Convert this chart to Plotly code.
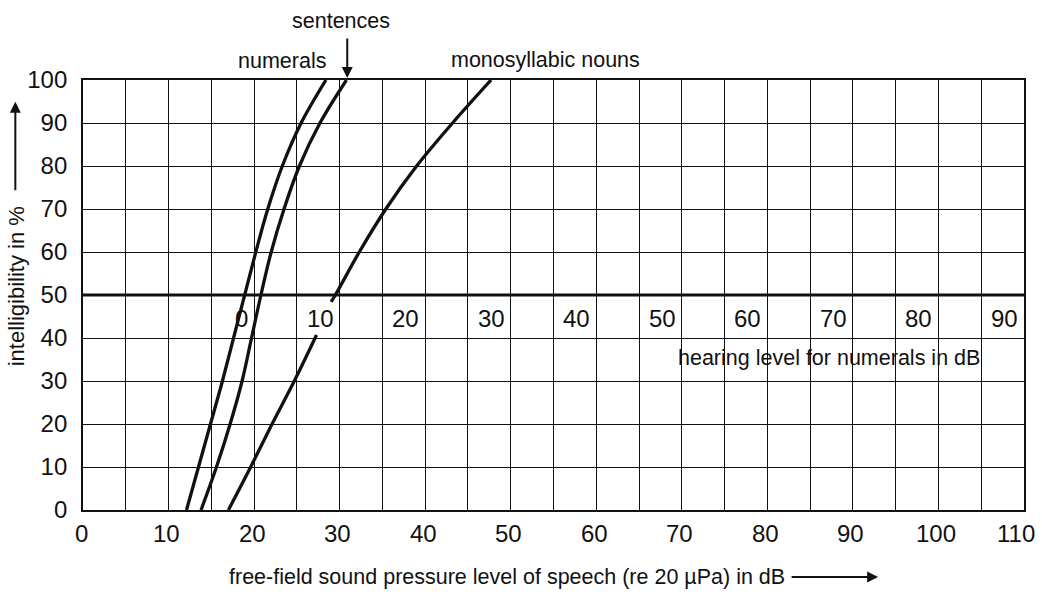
import plotly.graph_objects as go

# Speech intelligibility versus free-field sound pressure level of speech
numerals_db = [12.1, 13.5, 14.9, 16.3, 17.6, 18.9, 20.2, 21.6, 23.3, 25.5, 28.4]
numerals_pct = [0, 10, 20, 30, 40, 50, 60, 70, 80, 90, 100]

sentences_db = [13.8, 15.6, 17.2, 18.6, 19.7, 20.8, 22.0, 23.5, 25.3, 27.7, 30.8]
sentences_pct = [0, 10, 20, 30, 40, 50, 60, 70, 80, 90, 100]

# monosyllabic nouns curve is interrupted around the "10" hearing-level label
nouns_low_db = [17.0, 19.6, 22.1, 24.7, 27.3]
nouns_low_pct = [0, 10, 20, 30, 40.7]
nouns_high_db = [29.0, 29.5, 32.3, 35.4, 39.0, 43.2, 47.7]
nouns_high_pct = [48.4, 50, 60, 70, 80, 90, 100]

x_ticks = [0, 10, 20, 30, 40, 50, 60, 70, 80, 90, 100, 110]
y_ticks = [0, 10, 20, 30, 40, 50, 60, 70, 80, 90, 100]

# hearing level scale for numerals (0 dB HL = 20 dB SPL)
hl_ticks = [0, 10, 20, 30, 40, 50, 60, 70, 80, 90]
hl_offset = 20

INK = "#111111"
FONT = "Liberation Sans, Arial, Helvetica, sans-serif"
DIGIT_SIZE = 24
TEXT_SIZE = 21.5

fig = go.Figure()

curve_line = dict(color=INK, width=3.3, shape="spline", smoothing=1.0)
for xs, ys in [(numerals_db, numerals_pct), (sentences_db, sentences_pct),
               (nouns_low_db, nouns_low_pct), (nouns_high_db, nouns_high_pct)]:
    fig.add_trace(go.Scatter(x=xs, y=ys, mode="lines", line=curve_line,
                             hoverinfo="skip", showlegend=False, cliponaxis=False))

# heavy 50 % reference line carrying the hearing-level scale
fig.add_shape(type="line", xref="x", yref="y", x0=0, x1=110, y0=50, y1=50,
              line=dict(color=INK, width=3))

annotations = []

# sound-pressure tick labels under the frame (last one pulled inside the page)
for v in x_ticks:
    annotations.append(dict(x=v, y=-0.0535, xref="x", yref="paper", text=str(v),
                            showarrow=False, xanchor="center", yanchor="middle",
                            xshift=-8 if v == x_ticks[-1] else -2,
                            font=dict(family=FONT, size=DIGIT_SIZE, color=INK)))

# hearing-level labels just under the 50 % line
for hl in hl_ticks:
    annotations.append(dict(x=hl + hl_offset, y=44.6, xref="x", yref="y", text=str(hl),
                            showarrow=False, xanchor="right", yanchor="middle", xshift=-4,
                            font=dict(family=FONT, size=DIGIT_SIZE, color=INK)))


def label(text, x, y, **kw):
    d = dict(x=x, y=y, xref="paper", yref="paper", text=text, showarrow=False,
             xanchor="center", yanchor="middle",
             font=dict(family=FONT, size=TEXT_SIZE, color=INK))
    d.update(kw)
    return d


def arrow(x, y, ax, ay):
    return dict(x=x, y=y, xref="paper", yref="paper", text="", showarrow=True,
                ax=ax, ay=ay, arrowhead=2, arrowsize=1.1, arrowwidth=2, arrowcolor=INK)


annotations += [
    dict(x=87.2, y=35.4, xref="x", yref="y", text="hearing level for numerals in dB",
         showarrow=False, xanchor="center", yanchor="middle",
         font=dict(family=FONT, size=TEXT_SIZE, color=INK)),
    label("numerals", 0.2114, 1.0449),
    label("sentences", 0.2741, 1.1379),
    label("monosyllabic nouns", 0.4911, 1.0465),
    arrow(0.2808, 1.0047, 0, -41),
    # y-axis title with upward arrow
    label("intelligibility in %", -0.0698, 0.521, textangle=-90,
          font=dict(family=FONT, size=22, color=INK)),
    arrow(-0.0719, 0.9495, 0, 90),
    # x-axis title with rightward arrow
    label("free-field sound pressure level of speech (re 20 \u00b5Pa) in dB", 0.4508, -0.1558),
    arrow(0.845, -0.1558, -88, 0),
]

grid = dict(showgrid=True, gridcolor=INK, gridwidth=1.4, zeroline=False,
            showline=True, linecolor=INK, linewidth=1.8, mirror=True, ticks="")

fig.update_xaxes(range=[0, 110], tickvals=x_ticks, showticklabels=False,
                 minor=dict(dtick=5, showgrid=True, gridcolor=INK, gridwidth=1.4),
                 **grid)
fig.update_yaxes(range=[0, 100], tickvals=y_ticks, ticklabelstandoff=9,
                 tickfont=dict(family=FONT, size=DIGIT_SIZE, color=INK), **grid)

fig.update_layout(width=1042, height=595, autosize=False,
                  margin=dict(l=83, r=18, t=80, b=85),
                  plot_bgcolor="white", paper_bgcolor="white",
                  annotations=annotations, showlegend=False)

# keep the page free of margins and scrollbars
page_fix = (
    "document.documentElement.style.overflow='hidden';"
    "document.body.style.margin='0';"
    "document.body.style.overflow='hidden';"
)

fig.write_html("out.html", post_script=page_fix)
